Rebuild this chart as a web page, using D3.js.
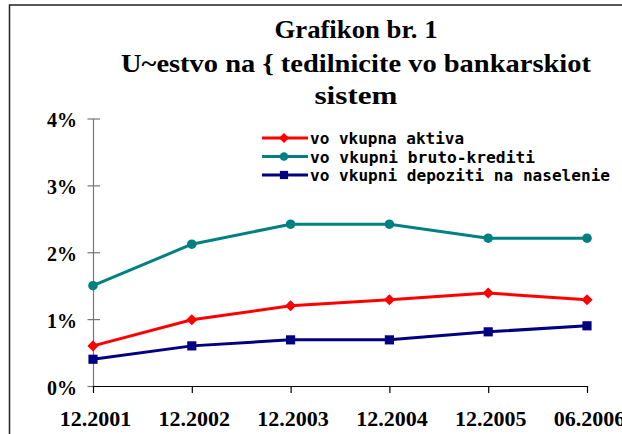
<!DOCTYPE html>
<html>
<head>
<meta charset="utf-8">
<script src="https://cdn.jsdelivr.net/npm/d3@7/dist/d3.min.js"></script>
<style>
  body { margin: 0; background: #fff; }
  svg { display: block; }
</style>
</head>
<body>
<svg width="622" height="434"></svg>
<script>
var periods = ["12.2001", "12.2002", "12.2003", "12.2004", "12.2005", "06.2006"];
var aktiva = [0.6, 0.99, 1.2, 1.29, 1.39, 1.29];
var krediti = [1.5, 2.12, 2.42, 2.42, 2.21, 2.21];
var depoziti = [0.4, 0.6, 0.69, 0.69, 0.81, 0.9];
var yTicks = [0, 1, 2, 3, 4];
var titleLines = ["Grafikon br. 1", "U~estvo na { tedilnicite vo bankarskiot", "sistem"];

var series = [
  { name: "vo vkupna aktiva", values: aktiva, color: "#ff0000", marker: "diamond" },
  { name: "vo vkupni bruto-krediti", values: krediti, color: "#008080", marker: "circle" },
  { name: "vo vkupni depoziti na naselenie", values: depoziti, color: "#000080", marker: "square" }
];

var svg = d3.select("svg");

// chart frame (only left and top edges are visible)
svg.append("path")
  .attr("d", "M9.5,434 V5 H622")
  .attr("fill", "none")
  .attr("stroke", "#222")
  .attr("stroke-width", 1.5);

var x = d3.scalePoint().domain(periods).range([93, 587]);
var y = d3.scaleLinear().domain([0, 4]).range([386, 118.5]);

// title
var titleW = [163, 470, 83];
var titleY = [38, 72, 104];
svg.selectAll(".title")
  .data(titleLines)
  .enter().append("text")
  .attr("class", "title")
  .attr("x", 356)
  .attr("y", (d, i) => titleY[i])
  .attr("text-anchor", "middle")
  .attr("textLength", (d, i) => titleW[i])
  .attr("lengthAdjust", "spacingAndGlyphs")
  .style("font-family", "Liberation Serif")
  .style("font-weight", "bold")
  .style("font-size", "26px")
  .text(d => d);

// y axis
var yAxis = svg.append("g")
  .attr("transform", "translate(93,0)")
  .call(d3.axisLeft(y).tickValues(yTicks).tickSize(0).tickPadding(16).tickFormat(d => d + "%"));
yAxis.select(".domain").attr("stroke", "#777").attr("stroke-width", 1.2);
yAxis.selectAll(".tick line")
  .attr("x1", -5.5).attr("x2", 7)
  .attr("stroke", "#777").attr("stroke-width", 1.2);
yAxis.selectAll(".tick text")
  .attr("dy", "0.42em")
  .style("font-family", "Liberation Serif")
  .style("font-weight", "bold")
  .style("font-size", "20px")
  .attr("fill", "#000");

// x axis
var xAxis = svg.append("g")
  .attr("transform", "translate(0,386)")
  .call(d3.axisBottom(x).tickSizeInner(7).tickSizeOuter(0).tickPadding(17));
xAxis.select(".domain").attr("stroke", "#000").attr("stroke-width", 1.2);
xAxis.selectAll(".tick line").attr("stroke", "#000").attr("stroke-width", 1.2);
xAxis.selectAll(".tick text")
  .attr("dx", 2)
  .style("font-family", "Liberation Serif")
  .style("font-weight", "bold")
  .style("font-size", "22px")
  .attr("fill", "#000");

// markers
function marker(type, k) {
  k = k || 1;
  if (type === "diamond") return d3.symbol().type(d3.symbolSquare).size(62 * k)();
  if (type === "circle") return d3.symbol().type(d3.symbolCircle).size(72 * k)();
  return d3.symbol().type(d3.symbolSquare).size(84 * k)();
}
function rot(type) { return type === "diamond" ? " rotate(45)" : ""; }

var line = d3.line()
  .x((d, i) => x(periods[i]))
  .y(d => y(d));

series.forEach(function (s) {
  svg.append("path")
    .datum(s.values)
    .attr("fill", "none")
    .attr("stroke", s.color)
    .attr("stroke-width", 3)
    .attr("d", line);

  svg.selectAll(null)
    .data(s.values)
    .enter().append("path")
    .attr("transform", (d, i) => `translate(${x(periods[i])},${y(d)})` + rot(s.marker))
    .attr("d", marker(s.marker))
    .attr("fill", s.color);
});

// legend
var legendW = [154, 225, 300];
var legend = svg.selectAll(".legend")
  .data(series)
  .enter().append("g")
  .attr("class", "legend")
  .attr("transform", (d, i) => `translate(262,${138 + i * 18.5})`);

legend.append("line")
  .attr("x1", 0).attr("x2", 46)
  .attr("stroke", d => d.color)
  .attr("stroke-width", 3);

legend.append("path")
  .attr("transform", d => "translate(22,0)" + rot(d.marker))
  .attr("d", d => marker(d.marker, 0.8))
  .attr("fill", d => d.color);

legend.append("text")
  .attr("x", 48)
  .attr("y", 6)
  .attr("textLength", (d, i) => legendW[i])
  .attr("lengthAdjust", "spacingAndGlyphs")
  .style("font-family", "DejaVu Sans Mono")
  .style("font-weight", "bold")
  .style("font-size", "16px")
  .text(d => d.name);
</script>
</body>
</html>
